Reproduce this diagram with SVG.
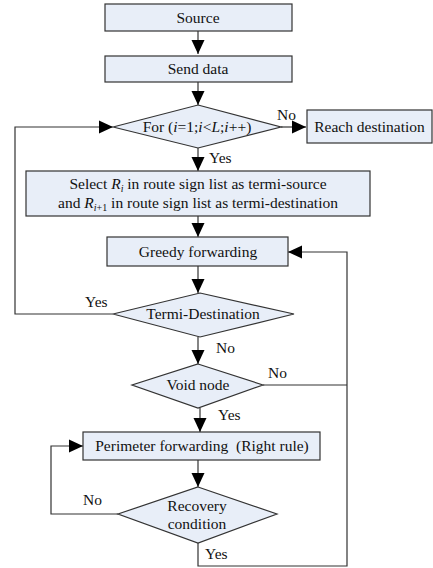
<svg xmlns="http://www.w3.org/2000/svg" width="433" height="568" viewBox="0 0 433 568">
<style>
.box{fill:#e8eef8;stroke:#333;stroke-width:1.2}
.ln{fill:none;stroke:#333;stroke-width:1.2}
.c{text-anchor:middle}
</style>
<defs>
<marker id="ah" markerUnits="userSpaceOnUse" markerWidth="14" markerHeight="14" viewBox="0 0 14 14" refX="14" refY="7" orient="auto">
<path d="M0,0.5 L14,7 L0,13.5 Z" fill="#000"/>
</marker>
</defs>
<rect width="433" height="568" fill="#fff"/>
<g id="connectors">
<line class="ln" x1="198" y1="31" x2="198" y2="54" marker-end="url(#ah)"/>
<line class="ln" x1="198" y1="82" x2="198" y2="105" marker-end="url(#ah)"/>
<line class="ln" x1="281" y1="127" x2="306" y2="127" marker-end="url(#ah)"/>
<line class="ln" x1="198" y1="148" x2="198" y2="171" marker-end="url(#ah)"/>
<line class="ln" x1="198" y1="216" x2="198" y2="237" marker-end="url(#ah)"/>
<line class="ln" x1="198" y1="266" x2="198" y2="293" marker-end="url(#ah)"/>
<polyline class="ln" points="113,314 15,314 15,127 113,127" marker-end="url(#ah)"/>
<line class="ln" x1="198" y1="337" x2="198" y2="364" marker-end="url(#ah)"/>
<line class="ln" x1="263" y1="385" x2="347" y2="385"/>
<polyline class="ln" points="198,543 198,566 347,566 347,252 288,252" marker-end="url(#ah)"/>
<line class="ln" x1="200" y1="408" x2="200" y2="432" marker-end="url(#ah)"/>
<line class="ln" x1="198" y1="460" x2="198" y2="487" marker-end="url(#ah)"/>
<polyline class="ln" points="118,514 51,514 51,446 83,446" marker-end="url(#ah)"/>
</g>
<g font-family="'Liberation Serif', 'DejaVu Serif', 'Times New Roman', serif" font-size="15.5" fill="#111">
<g id="source"><rect class="box" x="105" y="4" width="187" height="27"/><text class="c" x="198" y="23">Source</text></g>
<g id="send"><rect class="box" x="105" y="56" width="187" height="26"/><text class="c" x="198" y="74">Send data</text></g>
<g id="for"><polygon class="box" points="198,105 281,127 198,148 113,127"/><text class="c" x="197" y="132">For (<tspan font-style="italic">i</tspan>=1;<tspan font-style="italic">i</tspan>&lt;<tspan font-style="italic">L</tspan>;<tspan font-style="italic">i</tspan>++)</text></g>
<g id="reach"><rect class="box" x="307" y="110" width="125" height="33"/><text class="c" x="369.5" y="131.5">Reach destination</text></g>
<g id="select"><rect class="box" x="26" y="171" width="344" height="45"/>
<text class="c" x="198" y="189">Select <tspan font-style="italic">R</tspan><tspan font-style="italic" font-size="10" dy="3">i</tspan><tspan dy="-3"> in route sign list as termi-source</tspan></text>
<text class="c" x="198" y="208">and <tspan font-style="italic">R</tspan><tspan font-size="10" dy="3"><tspan font-style="italic">i</tspan>+1</tspan><tspan dy="-3"> in route sign list as termi-destination</tspan></text></g>
<g id="greedy"><rect class="box" x="107" y="237" width="181" height="29"/><text class="c" x="198" y="257">Greedy forwarding</text></g>
<g id="termi"><polygon class="box" points="200,293 294,314 200,337 113,314"/><text class="c" x="203" y="319">Termi-Destination</text></g>
<g id="void"><polygon class="box" points="198,364 263,385 198,408 132,385"/><text class="c" x="198" y="390">Void node</text></g>
<g id="perimeter"><rect class="box" x="83" y="432" width="237" height="28"/><text class="c" x="202" y="451" xml:space="preserve">Perimeter forwarding  (Right rule)</text></g>
<g id="recovery"><polygon class="box" points="198,487 277,514 198,543 118,514"/><text class="c" x="197" y="511">Recovery</text><text class="c" x="197" y="529">condition</text></g>
<g id="labels">
<text x="277" y="120">No</text>
<text x="209" y="163">Yes</text>
<text x="85" y="307">Yes</text>
<text x="216" y="353">No</text>
<text x="268" y="378">No</text>
<text x="218" y="420">Yes</text>
<text x="83" y="505">No</text>
<text x="205" y="559">Yes</text>
</g>
</g>
</svg>
